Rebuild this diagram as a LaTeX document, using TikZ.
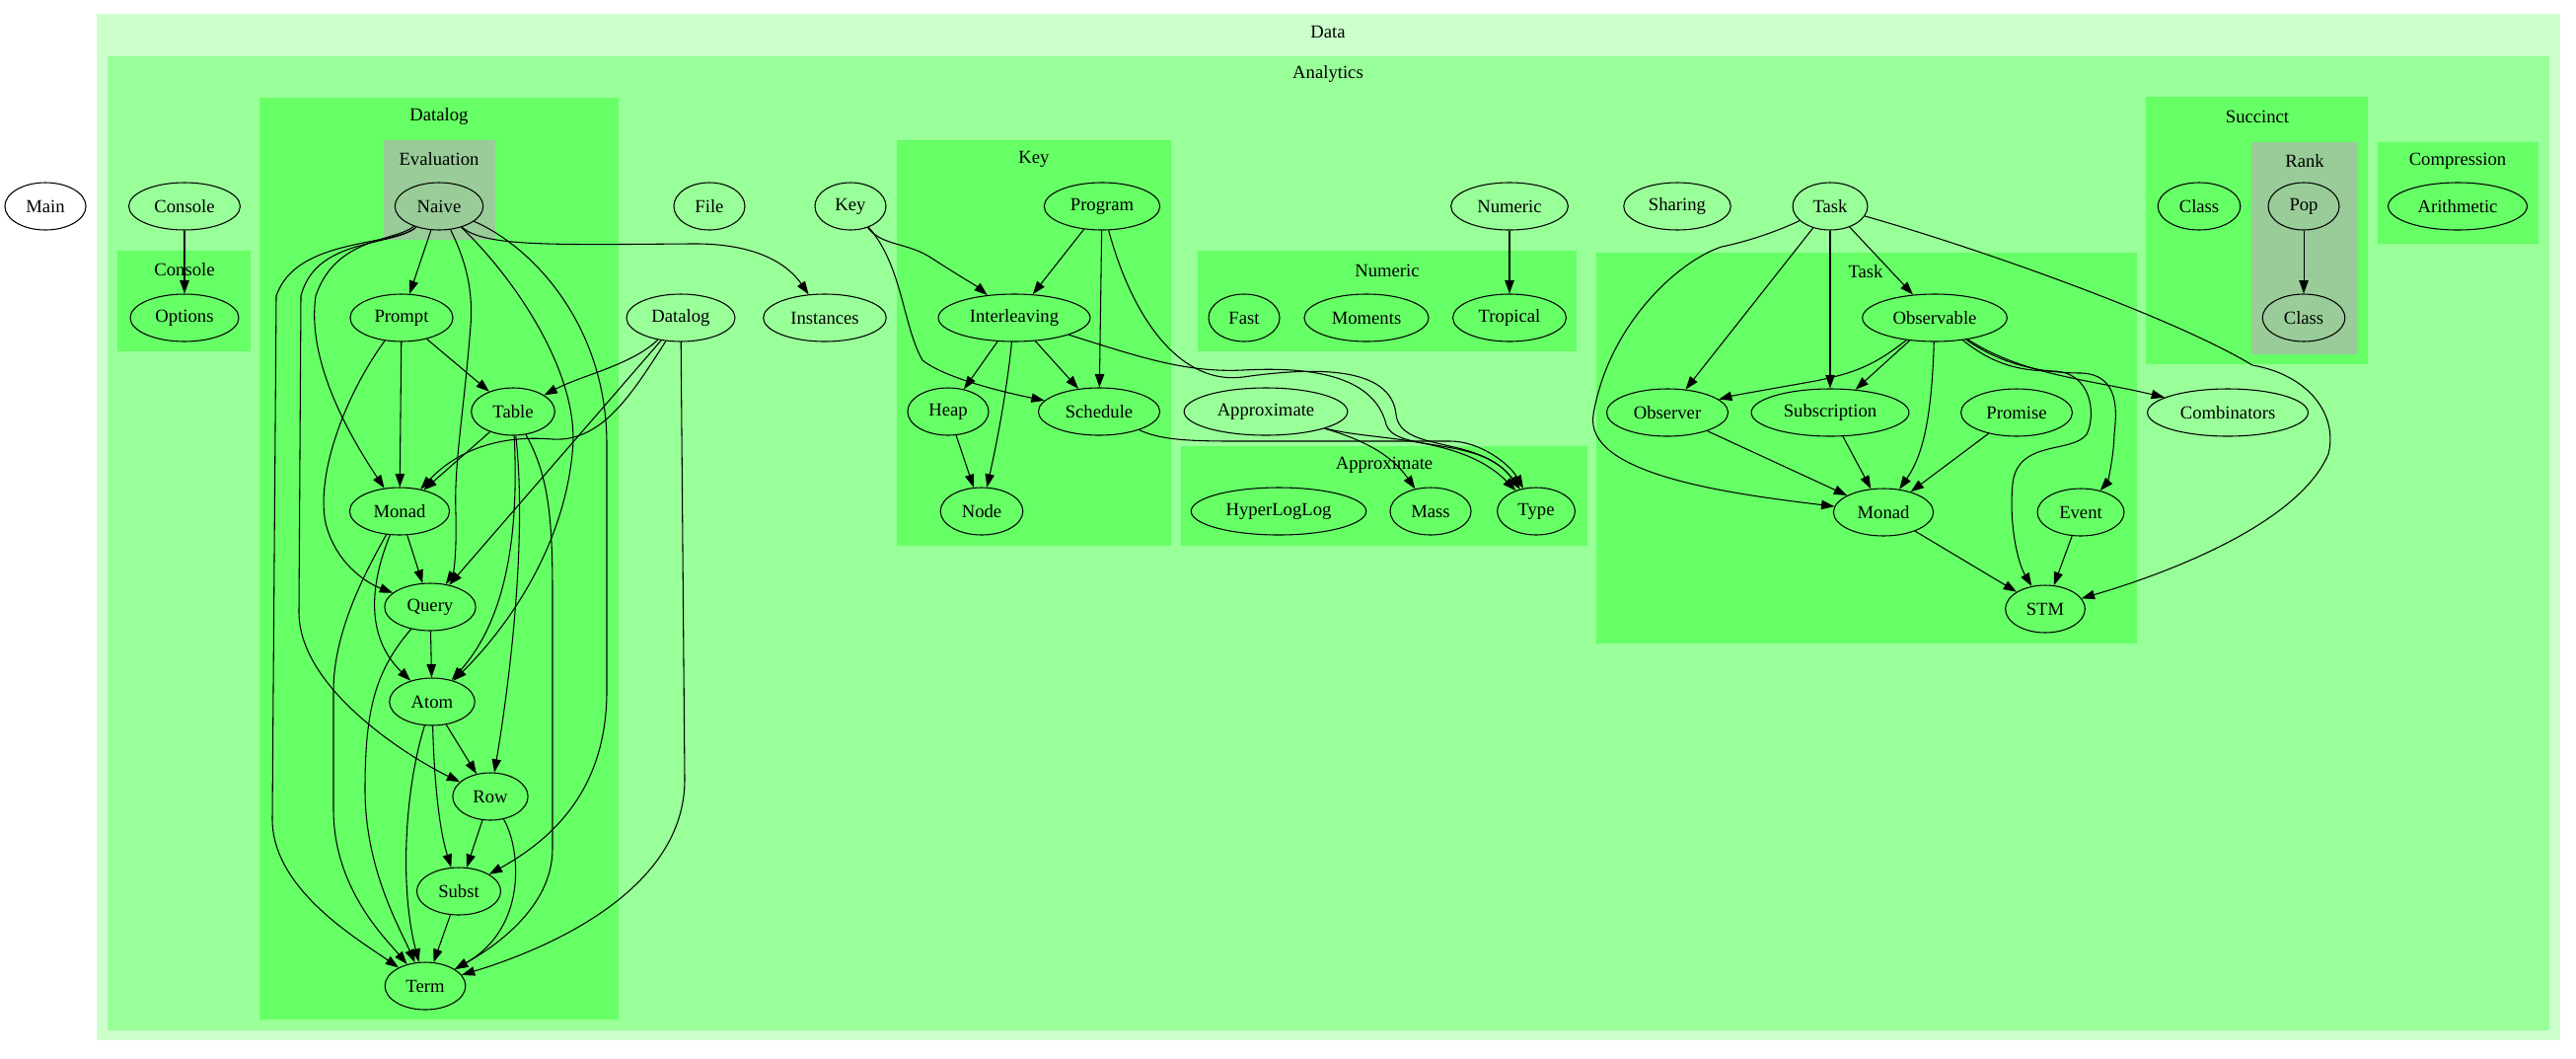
\documentclass[tikz,border=0pt]{standalone}
\usepackage{fontspec}
\setmainfont{Liberation Serif}
\usetikzlibrary{shapes.geometric,arrows.meta}
\definecolor{datafill}{HTML}{CCFFCC}
\definecolor{anafill}{HTML}{99FF99}
\definecolor{modfill}{HTML}{66FF66}
\definecolor{subfill}{HTML}{99CC99}

\begin{document}
\begin{tikzpicture}
	[x=0.75pt, y=-0.75pt,
	mod/.style={draw, ellipse, line width=0.8pt, inner xsep=7pt, inner ysep=2pt,
		minimum width=54pt, minimum height=36pt, font=\fontsize{14pt}{16pt}\selectfont},
	lbl/.style={font=\fontsize{14pt}{16pt}\selectfont},
	dep/.style={line width=0.8pt, -{Triangle[length=10pt, width=7pt]}}]
	
	\useasboundingbox (0,0) rectangle (2611,1072);
	
	% clusters
	\fill[datafill] (98,14) rectangle (2595,1054);
	\fill[anafill] (109,57) rectangle (2584,1044);
	\fill[modfill] (119,254) rectangle (254,356);
	\fill[modfill] (263,99) rectangle (627,1033);
	\fill[subfill] (389,142) rectangle (502,243);
	\fill[modfill] (909,142) rectangle (1187,553);
	\fill[modfill] (1214,254) rectangle (1598,356);
	\fill[modfill] (1197,452) rectangle (1609,553);
	\fill[modfill] (1618,256) rectangle (2166,652);
	\fill[modfill] (2175,98) rectangle (2400,369);
	\fill[subfill] (2282,144) rectangle (2390,359);
	\fill[modfill] (2410,144) rectangle (2573,247);
	
	\node[lbl] (lData) at (1346,32) {Data};
	\node[lbl] (lAnalytics) at (1346,75) {Analytics};
	\node[lbl] (lConsole) at (187,273) {Console};
	\node[lbl] (lDatalog) at (445,118) {Datalog};
	\node[lbl] (lEvaluation) at (445,161) {Evaluation};
	\node[lbl] (lKey) at (1048,161) {Key};
	\node[lbl] (lNumeric) at (1406,274) {Numeric};
	\node[lbl] (lApproximate) at (1403,471) {Approximate};
	\node[lbl] (lTask) at (1891,275) {Task};
	\node[lbl] (lSuccinct) at (2288,118) {Succinct};
	\node[lbl] (lRank) at (2336,163) {Rank};
	\node[lbl] (lCompression) at (2491,163) {Compression};
	
	% modules
	\node[mod] (main) at (46,209) {Main};
	\node[mod] (console) at (187,209) {Console};
	\node[mod] (options) at (187,322) {Options};
	\node[mod] (naive) at (445,209) {Naive};
	\node[mod] (prompt) at (407,322) {Prompt};
	\node[mod] (table) at (520,417) {Table};
	\node[mod] (dmonad) at (405,518) {Monad};
	\node[mod] (query) at (436,615) {Query};
	\node[mod] (atom) at (438,711) {Atom};
	\node[mod] (row) at (497,807) {Row};
	\node[mod] (subst) at (465,903) {Subst};
	\node[mod] (term) at (431,999) {Term};
	\node[mod] (file) at (719,209) {File};
	\node[mod] (key) at (862,209) {Key};
	\node[mod] (datalog) at (690,322) {Datalog};
	\node[mod] (instances) at (836,322) {Instances};
	\node[mod] (program) at (1117,209) {Program};
	\node[mod] (interleaving) at (1028,322) {Interleaving};
	\node[mod] (heap) at (961,417) {Heap};
	\node[mod] (schedule) at (1114,417) {Schedule};
	\node[mod] (knode) at (995,518) {Node};
	\node[mod] (numeric) at (1530,209) {Numeric};
	\node[mod] (fast) at (1261,322) {Fast};
	\node[mod] (moments) at (1385,322) {Moments};
	\node[mod] (tropical) at (1530,322) {Tropical};
	\node[mod] (approximate) at (1283,417) {Approximate};
	\node[mod] (hyperloglog) at (1296,518) {HyperLogLog};
	\node[mod] (mass) at (1450,518) {Mass};
	\node[mod] (type) at (1557,518) {Type};
	\node[mod] (sharing) at (1700,209) {Sharing};
	\node[mod] (task) at (1855,209) {Task};
	\node[mod] (observable) at (1961,322) {Observable};
	\node[mod] (observer) at (1690,418) {Observer};
	\node[mod] (subscription) at (1855,418) {Subscription};
	\node[mod] (promise) at (2044,418) {Promise};
	\node[mod] (combinators) at (2258,418) {Combinators};
	\node[mod] (tmonad) at (1909,519) {Monad};
	\node[mod] (event) at (2109,519) {Event};
	\node[mod] (stm) at (2073,617) {STM};
	\node[mod] (sclass) at (2229,209) {Class};
	\node[mod] (pop) at (2335,209) {Pop};
	\node[mod] (rclass) at (2335,322) {Class};
	\node[mod] (arithmetic) at (2491,209) {Arithmetic};
	
	% straight imports
	\foreach \a/\b in {console/options, naive/prompt, prompt/table, prompt/dmonad,
		table/dmonad, dmonad/query, datalog/query, query/atom, atom/row, row/subst,
		subst/term, program/interleaving, program/schedule, interleaving/heap,
		interleaving/schedule, heap/knode, numeric/tropical, task/observer,
		task/subscription, task/observable, observable/subscription,
		observer/tmonad, subscription/tmonad, promise/tmonad, tmonad/stm,
		event/stm, pop/rclass}
		\draw[dep] (\a) -- (\b);
	
	% Datalog
	\draw[dep] (naive) .. controls (490,250) and (560,248) .. (700,247)
		.. controls (770,246) and (800,270) .. (instances);
	\draw[dep] (naive) .. controls (400,245) and (340,240) .. (320,300)
		.. controls (310,370) and (360,450) .. (dmonad);
	\draw[dep] (naive) .. controls (400,250) and (300,240) .. (280,300)
		-- (276,830) .. controls (276,900) and (360,950) .. (term);
	\draw[dep] (naive) .. controls (400,250) and (320,240) .. (305,300)
		-- (303,620) .. controls (303,700) and (420,770) .. (row);
	\draw[dep] (naive) .. controls (470,260) and (480,290) .. (477,330)
		.. controls (470,420) and (460,470) .. (462,520) .. controls (463,560) and (460,580) .. (query);
	\draw[dep] (naive) .. controls (520,280) and (590,380) .. (580,460)
		.. controls (570,560) and (510,640) .. (atom);
	\draw[dep] (naive) .. controls (540,250) and (615,330) .. (615,450)
		-- (615,700) .. controls (615,800) and (560,850) .. (subst);
	\draw[dep] (prompt) .. controls (350,400) and (320,480) .. (330,530)
		.. controls (340,570) and (370,590) .. (query);
	\draw[dep] (table) .. controls (525,520) and (520,620) .. (atom);
	\draw[dep] (table) .. controls (535,550) and (515,700) .. (row);
	\draw[dep] (table) .. controls (555,480) and (560,520) .. (560,600)
		-- (560,860) .. controls (560,920) and (500,960) .. (term);
	\draw[dep] (datalog) .. controls (640,370) and (590,380) .. (table);
	\draw[dep] (datalog) .. controls (640,400) and (610,448) .. (560,445)
		.. controls (500,440) and (460,460) .. (dmonad);
	\draw[dep] (datalog) -- (694,790) .. controls (694,900) and (560,960) .. (term);
	\draw[dep] (dmonad) .. controls (380,580) and (365,640) .. (atom);
	\draw[dep] (dmonad) .. controls (370,580) and (338,640) .. (338,700)
		-- (338,820) .. controls (338,900) and (390,950) .. (term);
	\draw[dep] (query) .. controls (380,680) and (370,720) .. (370,800)
		.. controls (370,880) and (405,940) .. (term);
	\draw[dep] (atom) .. controls (440,790) and (445,840) .. (subst);
	\draw[dep] (atom) .. controls (410,800) and (405,900) .. (term);
	\draw[dep] (row) .. controls (528,860) and (535,940) .. (term);
	
	% Key, Approximate
	\draw[dep] (key) .. controls (895,250) and (920,245) .. (945,262)
		.. controls (965,275) and (990,290) .. (interleaving);
	\draw[dep] (key) .. controls (915,270) and (915,330) .. (935,365)
		.. controls (960,385) and (1030,400) .. (schedule);
	\draw[dep] (interleaving) .. controls (1020,400) and (1010,450) .. (knode);
	\draw[dep] (program) .. controls (1150,330) and (1200,390) .. (1260,382)
		.. controls (1330,372) and (1410,370) .. (1415,420)
		.. controls (1420,460) and (1500,440) .. (type);
	\draw[dep] (interleaving) .. controls (1150,360) and (1200,378) .. (1260,375)
		.. controls (1350,370) and (1395,390) .. (1405,430)
		.. controls (1415,460) and (1500,440) .. (type);
	\draw[dep] (schedule) .. controls (1175,445) and (1200,447) .. (1250,447)
		-- (1470,447) .. controls (1500,447) and (1530,470) .. (type);
	\draw[dep] (approximate) .. controls (1380,445) and (1410,460) .. (mass);
	\draw[dep] (approximate) .. controls (1390,447) and (1480,440) .. (type);
	
	% Task
	\draw[dep] (task) .. controls (1800,235) and (1770,245) .. (1745,250)
		.. controls (1700,265) and (1630,330) .. (1615,420)
		.. controls (1605,480) and (1750,500) .. (tmonad);
	\draw[dep] (task) .. controls (2000,250) and (2200,320) .. (2283,370)
		.. controls (2340,380) and (2370,420) .. (2360,460)
		.. controls (2330,530) and (2200,580) .. (stm);
	\draw[dep] (observable) .. controls (1900,370) and (1880,378) .. (1840,386)
		.. controls (1790,395) and (1760,400) .. (observer);
	\draw[dep] (observable) .. controls (1958,420) and (1950,460) .. (tmonad);
	\draw[dep] (observable) .. controls (2015,365) and (2040,376) .. (2080,376)
		.. controls (2120,376) and (2125,420) .. (2115,440)
		.. controls (2100,460) and (2045,445) .. (2040,490)
		.. controls (2036,530) and (2045,570) .. (stm);
	\draw[dep] (observable) .. controls (2030,370) and (2070,378) .. (2110,378)
		.. controls (2150,380) and (2145,420) .. (2143,440)
		.. controls (2142,470) and (2135,490) .. (event);
	\draw[dep] (observable) .. controls (2050,380) and (2120,385) .. (combinators);
\end{tikzpicture}
\end{document}
